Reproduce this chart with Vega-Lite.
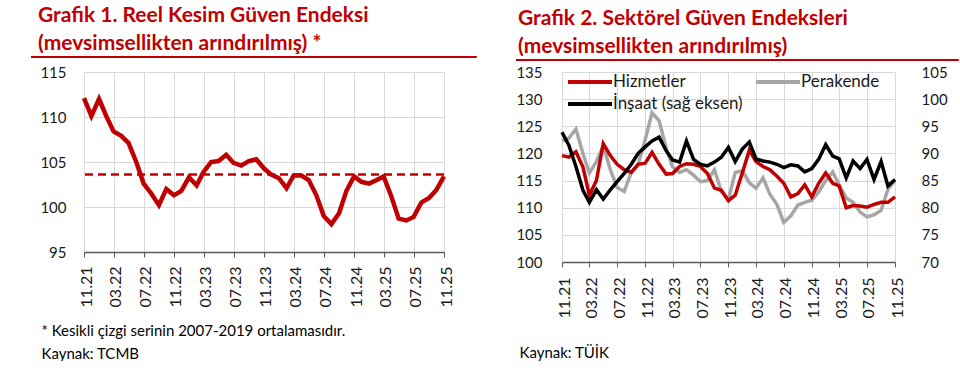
{
  "$schema": "https://vega.github.io/schema/vega-lite/v6.json",
  "background": "white",
  "padding": {"left": 30, "top": 4, "right": 5, "bottom": 0},
  "spacing": 36,
  "resolve": {"scale": {"color": "independent"}, "legend": {"color": "independent"}},
  "config": {
    "font": "Lato",
    "view": {"stroke": null},
    "axis": {
      "labelFont": "Lato",
      "labelColor": "#1a1a1a",
      "gridColor": "#D9D9D9",
      "gridWidth": 1,
      "domainColor": "#595959",
      "tickColor": "#595959",
      "titleFont": "Lato"
    }
  },
  "datasets": {
    "g1": [
      {"ay": "2021-11-01", "endeks": 112.1}, {"ay": "2021-12-01", "endeks": 110.1}, {"ay": "2022-01-01", "endeks": 112.0},
      {"ay": "2022-02-01", "endeks": 110.0}, {"ay": "2022-03-01", "endeks": 108.4}, {"ay": "2022-04-01", "endeks": 107.9},
      {"ay": "2022-05-01", "endeks": 107.1}, {"ay": "2022-06-01", "endeks": 105.0}, {"ay": "2022-07-01", "endeks": 102.6},
      {"ay": "2022-08-01", "endeks": 101.5}, {"ay": "2022-09-01", "endeks": 100.2}, {"ay": "2022-10-01", "endeks": 102.0},
      {"ay": "2022-11-01", "endeks": 101.3}, {"ay": "2022-12-01", "endeks": 101.8}, {"ay": "2023-01-01", "endeks": 103.3},
      {"ay": "2023-02-01", "endeks": 102.4}, {"ay": "2023-03-01", "endeks": 103.9}, {"ay": "2023-04-01", "endeks": 105.0},
      {"ay": "2023-05-01", "endeks": 105.1}, {"ay": "2023-06-01", "endeks": 105.8}, {"ay": "2023-07-01", "endeks": 104.9},
      {"ay": "2023-08-01", "endeks": 104.6}, {"ay": "2023-09-01", "endeks": 105.1}, {"ay": "2023-10-01", "endeks": 105.3},
      {"ay": "2023-11-01", "endeks": 104.3}, {"ay": "2023-12-01", "endeks": 103.6}, {"ay": "2024-01-01", "endeks": 103.2},
      {"ay": "2024-02-01", "endeks": 102.1}, {"ay": "2024-03-01", "endeks": 103.5}, {"ay": "2024-04-01", "endeks": 103.5},
      {"ay": "2024-05-01", "endeks": 103.0}, {"ay": "2024-06-01", "endeks": 101.3}, {"ay": "2024-07-01", "endeks": 99.0},
      {"ay": "2024-08-01", "endeks": 98.1}, {"ay": "2024-09-01", "endeks": 99.3}, {"ay": "2024-10-01", "endeks": 101.8},
      {"ay": "2024-11-01", "endeks": 103.4}, {"ay": "2024-12-01", "endeks": 102.8}, {"ay": "2025-01-01", "endeks": 102.6},
      {"ay": "2025-02-01", "endeks": 103.0}, {"ay": "2025-03-01", "endeks": 103.4}, {"ay": "2025-04-01", "endeks": 101.2},
      {"ay": "2025-05-01", "endeks": 98.7}, {"ay": "2025-06-01", "endeks": 98.5}, {"ay": "2025-07-01", "endeks": 98.9},
      {"ay": "2025-08-01", "endeks": 100.5}, {"ay": "2025-09-01", "endeks": 101.0}, {"ay": "2025-10-01", "endeks": 101.9},
      {"ay": "2025-11-01", "endeks": 103.4}
    ],
    "g2": [
      {"ay": "2021-11-01", "Hizmetler": 119.6, "Perakende": 122.3, "Insaat": 93.9},
      {"ay": "2021-12-01", "Hizmetler": 119.3, "Perakende": 122.8, "Insaat": 91.5},
      {"ay": "2022-01-01", "Hizmetler": 120.3, "Perakende": 124.5, "Insaat": 87.6},
      {"ay": "2022-02-01", "Hizmetler": 117.5, "Perakende": 120.0, "Insaat": 83.2},
      {"ay": "2022-03-01", "Hizmetler": 112.3, "Perakende": 116.4, "Insaat": 81.0},
      {"ay": "2022-04-01", "Hizmetler": 115.0, "Perakende": 118.5, "Insaat": 83.3},
      {"ay": "2022-05-01", "Hizmetler": 121.8, "Perakende": 121.4, "Insaat": 81.6},
      {"ay": "2022-06-01", "Hizmetler": 119.6, "Perakende": 117.0, "Insaat": 83.3},
      {"ay": "2022-07-01", "Hizmetler": 118.0, "Perakende": 113.7, "Insaat": 84.8},
      {"ay": "2022-08-01", "Hizmetler": 117.0, "Perakende": 113.0, "Insaat": 86.3},
      {"ay": "2022-09-01", "Hizmetler": 116.5, "Perakende": 116.5, "Insaat": 88.0},
      {"ay": "2022-10-01", "Hizmetler": 118.0, "Perakende": 118.0, "Insaat": 90.0},
      {"ay": "2022-11-01", "Hizmetler": 118.2, "Perakende": 122.5, "Insaat": 91.2},
      {"ay": "2022-12-01", "Hizmetler": 120.2, "Perakende": 127.5, "Insaat": 92.3},
      {"ay": "2023-01-01", "Hizmetler": 118.0, "Perakende": 126.0, "Insaat": 93.0},
      {"ay": "2023-02-01", "Hizmetler": 116.2, "Perakende": 121.0, "Insaat": 90.5},
      {"ay": "2023-03-01", "Hizmetler": 116.3, "Perakende": 117.5, "Insaat": 88.8},
      {"ay": "2023-04-01", "Hizmetler": 117.6, "Perakende": 116.5, "Insaat": 88.4},
      {"ay": "2023-05-01", "Hizmetler": 118.1, "Perakende": 117.0, "Insaat": 92.3},
      {"ay": "2023-06-01", "Hizmetler": 118.0, "Perakende": 116.0, "Insaat": 88.9},
      {"ay": "2023-07-01", "Hizmetler": 117.6, "Perakende": 114.8, "Insaat": 88.0},
      {"ay": "2023-08-01", "Hizmetler": 116.3, "Perakende": 115.0, "Insaat": 87.7},
      {"ay": "2023-09-01", "Hizmetler": 113.6, "Perakende": 117.0, "Insaat": 88.4},
      {"ay": "2023-10-01", "Hizmetler": 113.2, "Perakende": 113.0, "Insaat": 89.3},
      {"ay": "2023-11-01", "Hizmetler": 111.3, "Perakende": 111.5, "Insaat": 91.1},
      {"ay": "2023-12-01", "Hizmetler": 112.3, "Perakende": 116.5, "Insaat": 88.5},
      {"ay": "2024-01-01", "Hizmetler": 116.4, "Perakende": 116.8, "Insaat": 90.8},
      {"ay": "2024-02-01", "Hizmetler": 120.6, "Perakende": 114.6, "Insaat": 92.1},
      {"ay": "2024-03-01", "Hizmetler": 118.5, "Perakende": 113.6, "Insaat": 89.0},
      {"ay": "2024-04-01", "Hizmetler": 117.6, "Perakende": 115.5, "Insaat": 88.6},
      {"ay": "2024-05-01", "Hizmetler": 117.0, "Perakende": 112.5, "Insaat": 88.4},
      {"ay": "2024-06-01", "Hizmetler": 115.8, "Perakende": 110.6, "Insaat": 88.0},
      {"ay": "2024-07-01", "Hizmetler": 114.5, "Perakende": 107.3, "Insaat": 87.4},
      {"ay": "2024-08-01", "Hizmetler": 112.0, "Perakende": 108.5, "Insaat": 87.9},
      {"ay": "2024-09-01", "Hizmetler": 112.6, "Perakende": 110.5, "Insaat": 87.7},
      {"ay": "2024-10-01", "Hizmetler": 114.2, "Perakende": 111.0, "Insaat": 86.6},
      {"ay": "2024-11-01", "Hizmetler": 112.0, "Perakende": 111.4, "Insaat": 87.2},
      {"ay": "2024-12-01", "Hizmetler": 114.5, "Perakende": 112.9, "Insaat": 88.9},
      {"ay": "2025-01-01", "Hizmetler": 116.4, "Perakende": 115.0, "Insaat": 91.6},
      {"ay": "2025-02-01", "Hizmetler": 114.5, "Perakende": 116.6, "Insaat": 89.5},
      {"ay": "2025-03-01", "Hizmetler": 114.0, "Perakende": 114.2, "Insaat": 89.0},
      {"ay": "2025-04-01", "Hizmetler": 110.0, "Perakende": 111.8, "Insaat": 85.5},
      {"ay": "2025-05-01", "Hizmetler": 110.4, "Perakende": 111.0, "Insaat": 88.6},
      {"ay": "2025-06-01", "Hizmetler": 110.3, "Perakende": 109.2, "Insaat": 87.2},
      {"ay": "2025-07-01", "Hizmetler": 110.1, "Perakende": 108.3, "Insaat": 88.9},
      {"ay": "2025-08-01", "Hizmetler": 110.6, "Perakende": 108.7, "Insaat": 85.2},
      {"ay": "2025-09-01", "Hizmetler": 111.0, "Perakende": 109.5, "Insaat": 88.5},
      {"ay": "2025-10-01", "Hizmetler": 111.0, "Perakende": 113.4, "Insaat": 84.0},
      {"ay": "2025-11-01", "Hizmetler": 112.0, "Perakende": 115.0, "Insaat": 85.2}
    ]
  },
  "hconcat": [
    {
      "width": 360,
      "height": 180,
      "title": {
        "text": ["Grafik 1. Reel Kesim Güven Endeksi", "(mevsimsellikten arındırılmış)  *"],
        "anchor": "start", "frame": "bounds", "dx": 8,
        "font": "Lato", "fontSize": 21, "fontWeight": "bold", "color": "#C00000",
        "lineHeight": 28, "offset": 2
      },
      "layer": [
        {
          "data": {"values": [{}]},
          "mark": {"type": "rule", "color": "#C00000", "strokeWidth": 2, "clip": false},
          "encoding": {
            "x": {"datum": {"year": 2021, "month": 3, "date": 31, "utc": true}, "type": "temporal",
                  "scale": {"type": "utc", "domain": [{"year": 2021, "month": 11, "date": 1, "utc": true}, {"year": 2025, "month": 11, "date": 1, "utc": true}]}},
            "x2": {"datum": {"year": 2026, "month": 3, "date": 14, "utc": true}},
            "y": {"datum": 116.67, "type": "quantitative", "scale": {"domain": [95, 115]}}
          }
        },
        {
          "data": {"values": [{}]},
          "mark": {"type": "rule", "color": "#C00000", "strokeWidth": 2.5, "strokeDash": [8, 5]},
          "encoding": {
            "y": {"datum": 103.6, "type": "quantitative", "scale": {"domain": [95, 115]}}
          }
        },
        {
          "data": {"name": "g1"},
          "mark": {"type": "line", "color": "#C00000", "strokeWidth": 4.5},
          "encoding": {
            "x": {
              "field": "ay", "type": "temporal",
              "scale": {"type": "utc", "domain": [{"year": 2021, "month": 11, "date": 1, "utc": true}, {"year": 2025, "month": 11, "date": 1, "utc": true}]},
              "axis": {
                "values": [
                  {"year": 2021, "month": 11, "date": 1, "utc": true}, {"year": 2022, "month": 3, "date": 1, "utc": true},
                  {"year": 2022, "month": 7, "date": 1, "utc": true}, {"year": 2022, "month": 11, "date": 1, "utc": true},
                  {"year": 2023, "month": 3, "date": 1, "utc": true}, {"year": 2023, "month": 7, "date": 1, "utc": true},
                  {"year": 2023, "month": 11, "date": 1, "utc": true}, {"year": 2024, "month": 3, "date": 1, "utc": true},
                  {"year": 2024, "month": 7, "date": 1, "utc": true}, {"year": 2024, "month": 11, "date": 1, "utc": true},
                  {"year": 2025, "month": 3, "date": 1, "utc": true}, {"year": 2025, "month": 7, "date": 1, "utc": true},
                  {"year": 2025, "month": 11, "date": 1, "utc": true}
                ],
                "tickCount": 30,
                "format": "%m.%y",
                "labelAngle": -90, "labelAlign": "right", "labelBaseline": "middle",
                "labelFontSize": 16, "labelPadding": 9, "labelOffset": 2,
                "labelFlush": false, "labelOverlap": false, "labelBound": false,
                "tickSize": 5, "domainWidth": 1.5, "grid": true,
                "title": ["* Kesikli çizgi serinin 2007-2019 ortalamasıdır.", "Kaynak: TCMB"],
                "titleAnchor": "start", "titleAlign": "left", "titleBaseline": "top",
                "titleX": -43, "titleY": 71, "titleFontSize": 15, "titleFontWeight": "normal",
                "titleColor": "#000000", "titleLineHeight": 23
              }
            },
            "y": {
              "field": "endeks", "type": "quantitative",
              "scale": {"domain": [95, 115]},
              "axis": {"values": [95, 100, 105, 110, 115], "domain": false, "ticks": false,
                       "labelFontSize": 15, "labelPadding": 18, "grid": true, "title": null}
            }
          }
        }
      ]
    },
    {
      "width": 333,
      "height": 190,
      "title": {
        "text": ["Grafik 2. Sektörel Güven Endeksleri", "(mevsimsellikten arındırılmış)"],
        "anchor": "start", "frame": "bounds", "dx": 3,
        "font": "Lato", "fontSize": 21, "fontWeight": "bold", "color": "#C00000",
        "lineHeight": 28, "offset": 2
      },
      "layer": [
        {
          "data": {"values": [{}]},
          "mark": {"type": "rule", "color": "#C00000", "strokeWidth": 2, "clip": false},
          "encoding": {
            "x": {"datum": {"year": 2021, "month": 4, "date": 13, "utc": true}, "type": "temporal",
                  "scale": {"type": "utc", "domain": [{"year": 2021, "month": 11, "date": 1, "utc": true}, {"year": 2025, "month": 11, "date": 1, "utc": true}]}},
            "x2": {"datum": {"year": 2026, "month": 8, "date": 8, "utc": true}},
            "y": {"datum": 137.2, "type": "quantitative", "scale": {"domain": [100, 135]}, "axis": null}
          }
        },
        {
          "data": {"name": "g2"},
          "transform": [{"fold": ["Perakende", "Hizmetler"], "as": ["seri", "deger"]}],
          "mark": {"type": "line", "strokeWidth": 3.5},
          "encoding": {
            "x": {
              "field": "ay", "type": "temporal",
              "scale": {"type": "utc", "domain": [{"year": 2021, "month": 11, "date": 1, "utc": true}, {"year": 2025, "month": 11, "date": 1, "utc": true}]},
              "axis": {
                "values": [
                  {"year": 2021, "month": 11, "date": 1, "utc": true}, {"year": 2022, "month": 3, "date": 1, "utc": true},
                  {"year": 2022, "month": 7, "date": 1, "utc": true}, {"year": 2022, "month": 11, "date": 1, "utc": true},
                  {"year": 2023, "month": 3, "date": 1, "utc": true}, {"year": 2023, "month": 7, "date": 1, "utc": true},
                  {"year": 2023, "month": 11, "date": 1, "utc": true}, {"year": 2024, "month": 3, "date": 1, "utc": true},
                  {"year": 2024, "month": 7, "date": 1, "utc": true}, {"year": 2024, "month": 11, "date": 1, "utc": true},
                  {"year": 2025, "month": 3, "date": 1, "utc": true}, {"year": 2025, "month": 7, "date": 1, "utc": true},
                  {"year": 2025, "month": 11, "date": 1, "utc": true}
                ],
                "tickCount": 30,
                "format": "%m.%y",
                "labelAngle": -90, "labelAlign": "right", "labelBaseline": "middle",
                "labelFontSize": 16, "labelPadding": 10, "labelOffset": 2,
                "labelFlush": false, "labelOverlap": false, "labelBound": false,
                "tickSize": 5, "domainWidth": 1.5, "grid": true,
                "title": "Kaynak: TÜİK",
                "titleAnchor": "start", "titleAlign": "left", "titleBaseline": "top",
                "titleX": -43, "titleY": 83, "titleFontSize": 15, "titleFontWeight": "normal",
                "titleColor": "#000000"
              }
            },
            "y": {
              "field": "deger", "type": "quantitative",
              "scale": {"domain": [100, 135]},
              "axis": {"orient": "left", "values": [100, 105, 110, 115, 120, 125, 130, 135], "domain": false, "ticks": false,
                       "labelFontSize": 15, "labelPadding": 20, "grid": true, "title": null}
            },
            "color": {
              "field": "seri", "type": "nominal",
              "scale": {"domain": ["Hizmetler", "İnşaat (sağ eksen)", "Perakende"], "range": ["#C00000", "#000000", "#A6A6A6"]},
              "legend": {
                "orient": "none", "legendX": 4, "legendY": -4, "columns": 2, "title": null,
                "symbolType": "M-1.833,0H1.833", "symbolStrokeWidth": 4, "symbolSize": 576, "symbolOffset": 10,
                "labelFont": "Lato", "labelFontSize": 17, "labelColor": "#1a1a1a", "labelOffset": 9,
                "columnPadding": 5, "rowPadding": 0, "padding": 0
              }
            }
          }
        },
        {
          "data": {"name": "g2"},
          "mark": {"type": "line", "strokeWidth": 3.5},
          "encoding": {
            "x": {"field": "ay", "type": "temporal",
                  "scale": {"type": "utc", "domain": [{"year": 2021, "month": 11, "date": 1, "utc": true}, {"year": 2025, "month": 11, "date": 1, "utc": true}]}},
            "y": {
              "field": "Insaat", "type": "quantitative",
              "scale": {"domain": [70, 105]},
              "axis": {"orient": "right", "values": [70, 75, 80, 85, 90, 95, 100, 105], "domain": false, "ticks": false,
                       "labelFontSize": 15, "labelPadding": 26, "grid": false, "title": null}
            },
            "color": {"datum": "İnşaat (sağ eksen)", "type": "nominal"}
          }
        }
      ],
      "resolve": {"scale": {"y": "independent"}, "axis": {"y": "independent"}}
    }
  ]
}
